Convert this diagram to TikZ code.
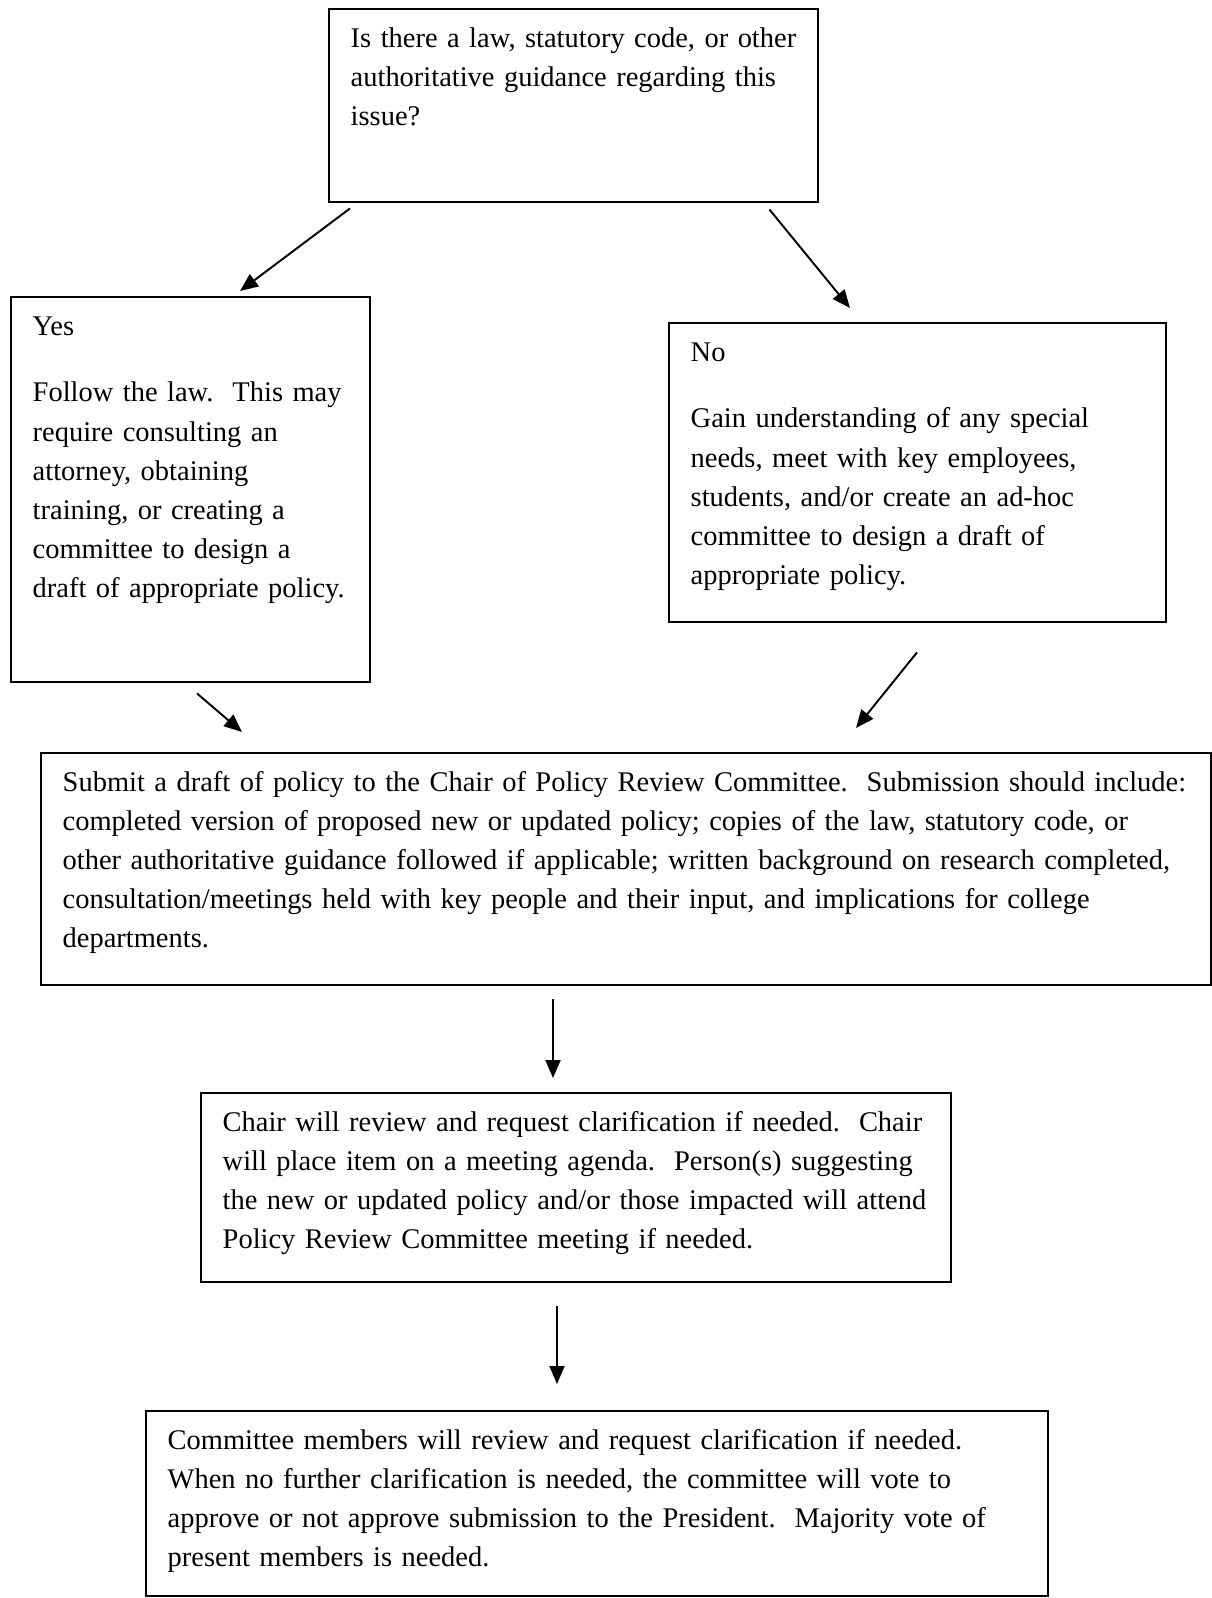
\documentclass[tikz,border=0pt]{standalone}
\usepackage{fontspec}
\setmainfont{Liberation Serif}
\usetikzlibrary{arrows.meta}

\begin{document}
\begin{tikzpicture}[
    x=0.02cm, y=-0.02cm,
    every node/.style={font=\fontsize{16.2}{22.3}\selectfont},
    stepbox/.style={rectangle, draw=black, line width=1.4pt, anchor=north west, inner sep=0pt,
        text height=0.76cm, execute at begin node={\leftskip=0.43cm}},
    arrow/.style={-{Triangle[length=0.36cm, width=0.3cm]}, line width=1.1pt}
]
\useasboundingbox (0,0) rectangle (1212,1598);

% Question
\node[stepbox, text width=9.78cm, text depth=3.10cm] (question) at (328,8) {Is there a law, statutory code, or other\\
authoritative guidance regarding this\\
issue?};

% Two answers
\node[stepbox, text width=7.18cm, text depth=6.94cm] (yes) at (10,296) {Yes\\[0.55cm]
Follow the law.\ \ This may\\
require consulting an\\
attorney, obtaining\\
training, or creating a\\
committee to design a\\
draft of appropriate policy.};
\node[stepbox, text width=9.94cm, text depth=5.22cm] (no) at (668,322) {No\\[0.55cm]
Gain understanding of any special\\
needs, meet with key employees,\\
students, and/or create an ad-hoc\\
committee to design a draft of\\
appropriate policy.};

% Review steps
\node[stepbox, text width=23.40cm, text depth=3.88cm] (submit) at (40,752) {Submit a draft of policy to the Chair of Policy Review Committee.\ \ Submission should include:\\
completed version of proposed new or updated policy; copies of the law, statutory code, or\\
other authoritative guidance followed if applicable; written background on research completed,\\
consultation/meetings held with key people and their input, and implications for college\\
departments.};
\node[stepbox, text width=15.00cm, text depth=3.02cm] (chair) at (200,1092) {Chair will review and request clarification if needed.\ \ Chair\\
will place item on a meeting agenda.\ \ Person(s) suggesting\\
the new or updated policy and/or those impacted will attend\\
Policy Review Committee meeting if needed.};
\node[stepbox, text width=18.04cm, text depth=2.94cm] (committee) at (145,1410) {Committee members will review and request clarification if needed.\\
When no further clarification is needed, the committee will vote to\\
approve or not approve submission to the President.\ \ Majority vote of\\
present members is needed.};

\draw[arrow] ([shift={(22,5)}]question.south west) -- ([shift={(230,-5)}]yes.north west);
\draw[arrow] ([shift={(-50,6)}]question.south east) -- ([shift={(182,-14)}]no.north west);
\draw[arrow] ([shift={(187,10)}]yes.south west) -- ([shift={(202,-20)}]submit.north west);
\draw[arrow] ([shift={(249,29)}]no.south west) -- ([shift={(816,-24)}]submit.north west);
\draw[arrow] ([shift={(513,13)}]submit.south west) -- ([shift={(353,-14)}]chair.north west);
\draw[arrow] ([shift={(357,23)}]chair.south west) -- ([shift={(412,-26)}]committee.north west);

\end{tikzpicture}
\end{document}
